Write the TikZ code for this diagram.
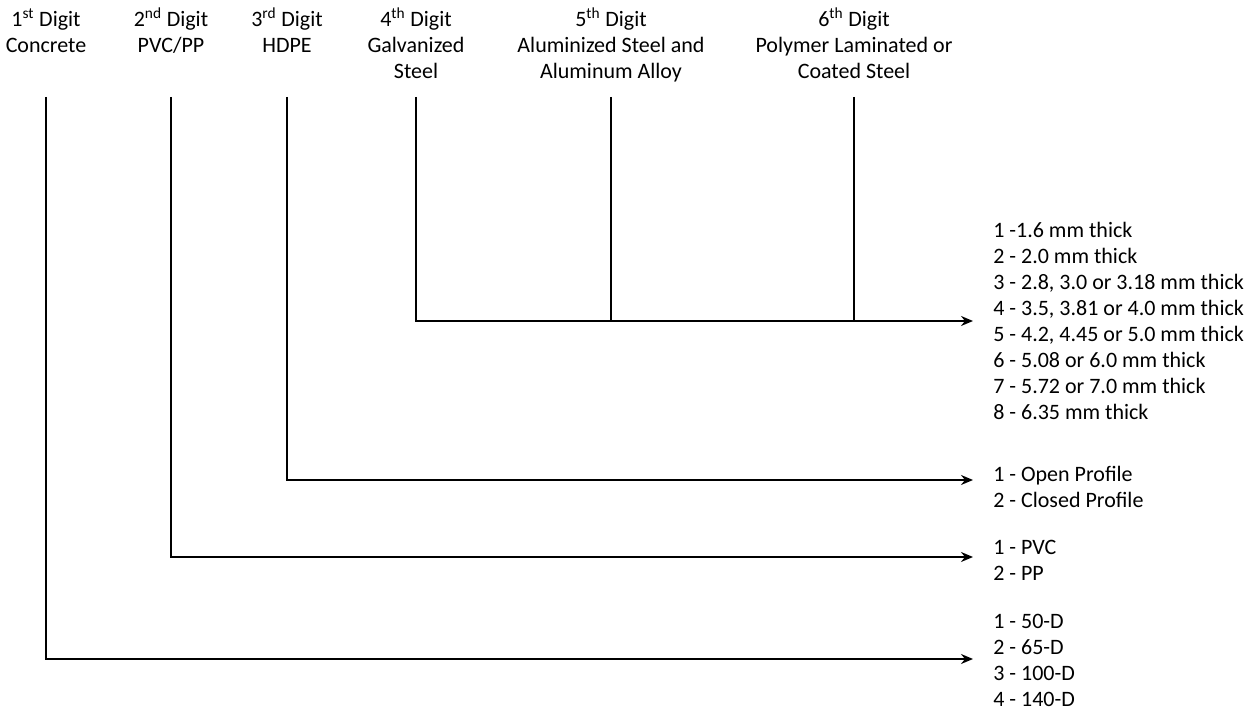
\documentclass[tikz,border=0pt]{standalone}
\usepackage{fontspec}
\setmainfont{Carlito}
\usetikzlibrary{arrows.meta}

\begin{document}
\begin{tikzpicture}[x=0.75pt, y=-0.75pt,
    digit/.style={anchor=base, align=center, inner sep=0pt, font=\fontsize{16.5}{19.5}\selectfont},
    codes/.style={anchor=base west, align=left, inner sep=0pt, font=\fontsize{16.5}{19.5}\selectfont},
    link/.style={line width=1.4pt},
    arrowlink/.style={link, -{Stealth[length=9pt, width=7.5pt, inset=3pt]}}]
                \useasboundingbox (0,0) rectangle (1254,712);

                % Digit headings (placed by the baseline of their last line)
                \node[digit] (d1) at (46,53) {1\textsuperscript{st} Digit\\Concrete};
                \node[digit] (d2) at (171,53) {2\textsuperscript{nd} Digit\\PVC/PP};
                \node[digit] (d3) at (287,53) {3\textsuperscript{rd} Digit\\HDPE};
                \node[digit] (d4) at (416,79) {4\textsuperscript{th} Digit\\Galvanized\\Steel};
                \node[digit] (d5) at (611,79) {5\textsuperscript{th} Digit\\Aluminized Steel and\\Aluminum Alloy};
                \node[digit] (d6) at (854,79) {6\textsuperscript{th} Digit\\Polymer Laminated or\\Coated Steel};

                % Line tops and arrow ends
                \coordinate (t1) at (46,97);
                \coordinate (t2) at (171,97);
                \coordinate (t3) at (287,97);
                \coordinate (t4) at (416,97);
                \coordinate (t5) at (611,97);
                \coordinate (t6) at (854,97);
                \coordinate (e4) at (973,321);
                \coordinate (e3) at (973,480);
                \coordinate (e2) at (973,557);
                \coordinate (e1) at (973,659);

                % Code lists (placed by the baseline of their last line)
                \node[codes] (c4) at (993,420) {1 -1.6 mm thick\\2 - 2.0 mm thick\\3 - 2.8, 3.0 or 3.18 mm thick\\4 - 3.5, 3.81 or 4.0 mm thick\\5 - 4.2, 4.45 or 5.0 mm thick\\6 - 5.08 or 6.0 mm thick\\7 - 5.72 or 7.0 mm thick\\8 - 6.35 mm thick};
                \node[codes] (c3) at (993,508) {1 - Open Profile\\2 - Closed Profile};
                \node[codes] (c2) at (993,581) {1 - PVC\\2 - PP};
                \node[codes] (c1) at (993,706) {1 - 50-D\\2 - 65-D\\3 - 100-D\\4 - 140-D};

                % Connectors
                \draw[arrowlink] (t4) |- (e4);
                \draw[link] (t5) -- (t5 |- e4);
                \draw[link] (t6) -- (t6 |- e4);
                \draw[arrowlink] (t3) |- (e3);
                \draw[arrowlink] (t2) |- (e2);
                \draw[arrowlink] (t1) |- (e1);
            \end{tikzpicture}
\end{document}
